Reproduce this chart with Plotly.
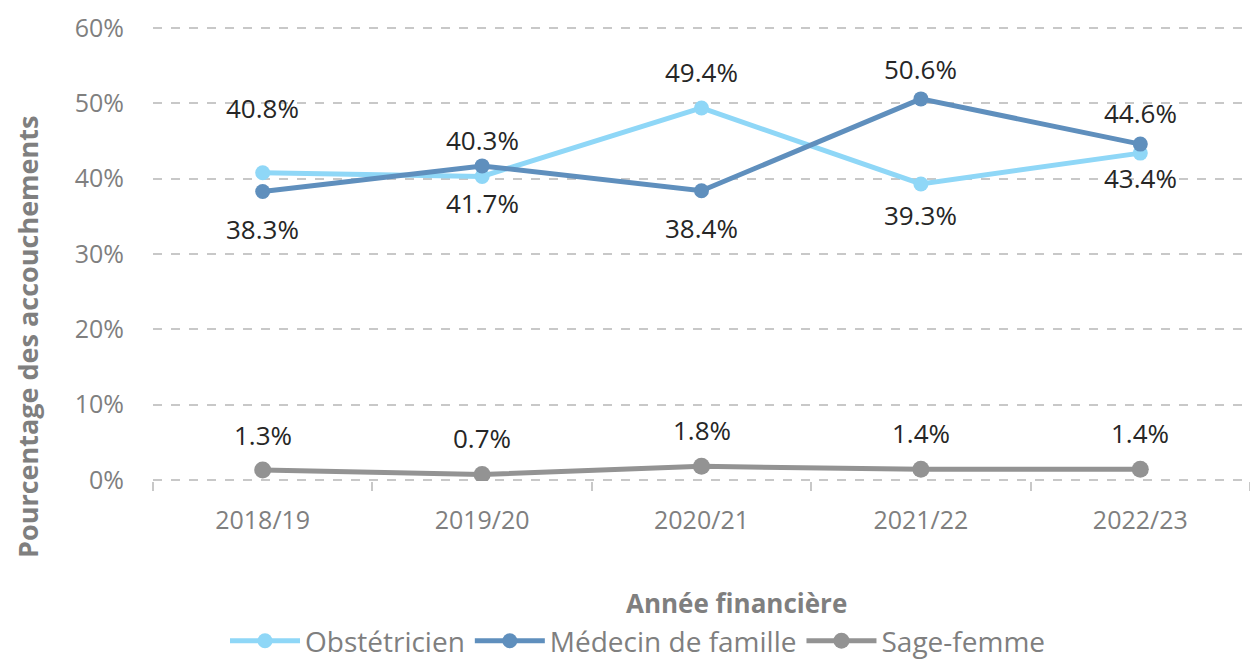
import plotly.graph_objects as go

years = ["2018/19", "2019/20", "2020/21", "2021/22", "2022/23"]
obstetricien = [40.8, 40.3, 49.4, 39.3, 43.4]
medecin_famille = [38.3, 41.7, 38.4, 50.6, 44.6]
sage_femme = [1.3, 0.7, 1.8, 1.4, 1.4]
y_ticks = [0, 10, 20, 30, 40, 50, 60]

# label placement (style): pixel shift of each data label from its point
obst_shift = [65, 36, 36, -31, -25]
med_shift = [-37, -37, -37, 30, 31]
sage_shift = [35, 37, 36, 36, 36]

FONT = "Open Sans"
GREY = "#7f7f7f"
L, R, T, B = 153, 0, 27, 179
W, H = 1250, 660
PW, PH = W - L - R, H - T - B

series = [
    ("Obstétricien", obstetricien, "#8fd7f7", 15, obst_shift),
    ("Médecin de famille", medecin_famille, "#5f8fbd", 15, med_shift),
    ("Sage-femme", sage_femme, "#939393", 17, sage_shift),
]

fig = go.Figure()
annotations = []
for name, vals, color, msize, shifts in series:
    fig.add_trace(go.Scatter(
        x=years, y=vals, name=name, mode="lines+markers",
        line=dict(color=color, width=5),
        marker=dict(color=color, size=msize),
    ))
    for xv, yv, s in zip(years, vals, shifts):
        annotations.append(dict(
            x=xv, y=yv, xref="x", yref="y", text=f"{yv:.1f}%",
            showarrow=False, yshift=s, xanchor="center", yanchor="middle",
            font=dict(family=FONT, size=26, color="#262626"),
        ))

def px_x(px):
    return (px - L) / PW

def px_y(py):
    return (H - B - py) / PH

annotations.append(dict(
    text="Année financière", x=px_x(736), y=px_y(603), xref="paper", yref="paper",
    xanchor="center", yanchor="middle",
    showarrow=False, font=dict(family=FONT, size=26, color=GREY, weight="bold"),
))
annotations.append(dict(
    text="Pourcentage des accouchements", textangle=-90,
    x=px_x(27), y=px_y(337), xref="paper", yref="paper",
    xanchor="center", yanchor="middle",
    showarrow=False, font=dict(family=FONT, size=27, color=GREY, weight="bold"),
))

fig.update_layout(
    width=W, height=H,
    margin=dict(l=L, r=R, t=T, b=B, autoexpand=False),
    plot_bgcolor="white", paper_bgcolor="white",
    font=dict(family=FONT, color=GREY),
    annotations=annotations,
    showlegend=True,
    legend=dict(
        orientation="h", xref="container", yref="container",
        x=638 / W, xanchor="center", y=1 - 641 / H, yanchor="middle",
        font=dict(family=FONT, size=28, color=GREY),
        itemwidth=70, tracegroupgap=0,
    ),
)
fig.update_xaxes(
    type="category", range=[-0.5, 4.5], automargin=False,
    showgrid=False, showline=False, zeroline=False,
    ticks="outside", tickson="boundaries", ticklen=9, tickcolor="#c8c8c8", tickwidth=1.5,
    tickfont=dict(family=FONT, size=25, color=GREY),
    ticklabelstandoff=22,
)
fig.update_yaxes(
    range=[-0.15, 60.15], automargin=False,
    tickvals=y_ticks, ticktext=[f"{t}%" for t in y_ticks],
    showgrid=True, gridcolor="#c8c8c8", griddash="dash", gridwidth=1.5,
    zeroline=False, showline=False,
    tickfont=dict(family=FONT, size=25, color=GREY),
    ticklabelstandoff=28,
)

fig.write_html(
    "out.html",
    config={"displayModeBar": False},
    post_script="document.body.style.margin='0';document.body.style.overflow='hidden';",
)
